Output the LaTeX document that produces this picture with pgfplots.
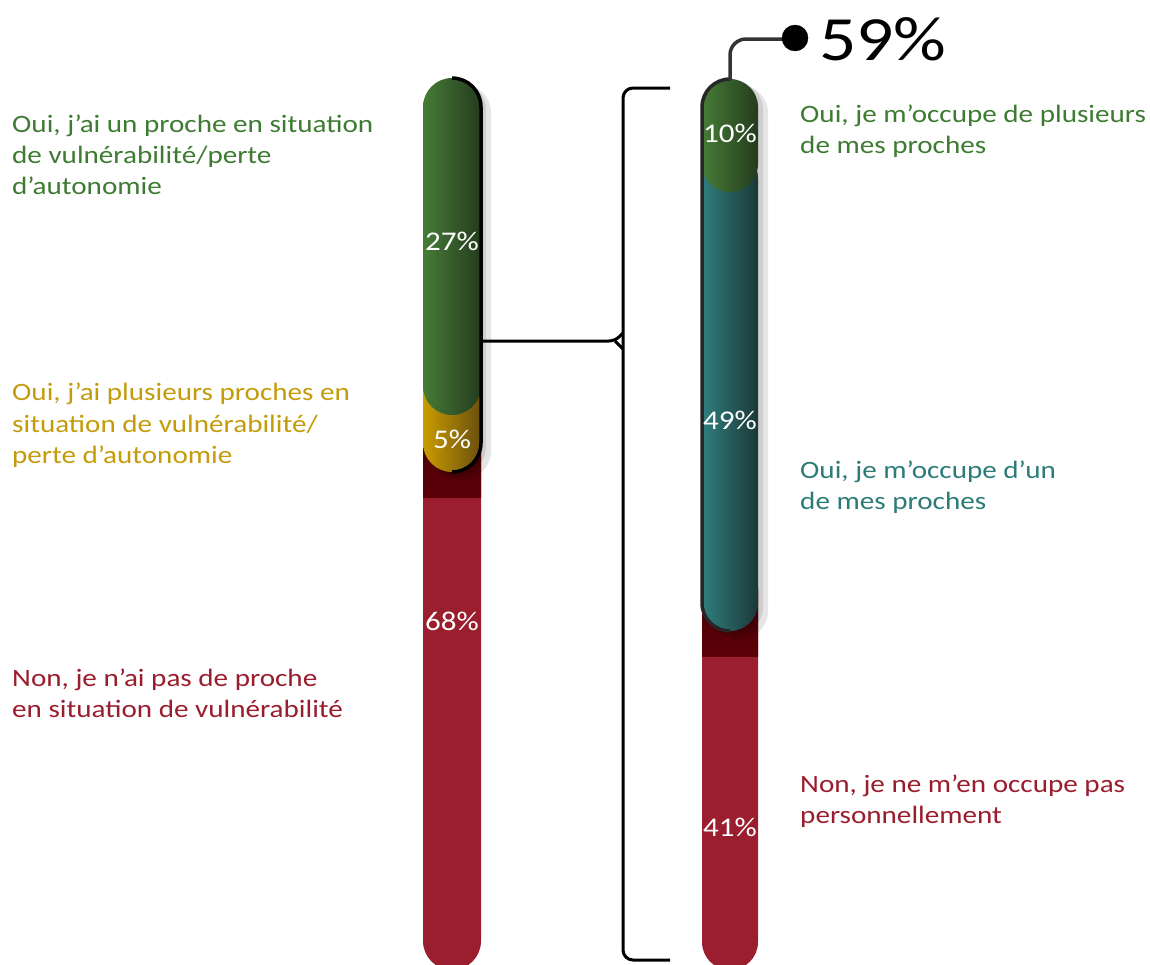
\documentclass[border=0pt]{standalone}
\usepackage{pgfplots}
\pgfplotsset{compat=1.18}
\usepackage{graphicx}
\usepackage{fontspec}
\setmainfont{Carlito}
\definecolor{gL}{HTML}{467C37}
\definecolor{gR}{HTML}{243B1D}
\definecolor{yL}{HTML}{C99C00}
\definecolor{yR}{HTML}{6A4F0F}
\definecolor{tL}{HTML}{2F7E7D}
\definecolor{tR}{HTML}{1A3838}
\definecolor{barred}{HTML}{9A1E2E}
\definecolor{dkred}{HTML}{5C0008}
\definecolor{txtgreen}{HTML}{3E7B32}
\definecolor{txtyellow}{HTML}{C49B0A}
\definecolor{txtred}{HTML}{9A1D2D}
\definecolor{txtteal}{HTML}{2D7B78}
\newcommand{\lab}[4]{\node[anchor=base west, inner sep=0pt, text=#1, font=\fontsize{25}{28}\selectfont] at (axis cs:#2,#3) {\scalebox{1.165}[1]{#4}};}
\newcommand{\val}[3]{\node[anchor=base, inner sep=0pt, text=white, font=\fontsize{27}{30}\selectfont] at (axis cs:#1,#2) {\scalebox{1.15}[1]{#3}};}
\begin{document}
\begin{tikzpicture}
\begin{axis}[width=1150pt,height=964pt,scale only axis,enlargelimits=false,
  xmin=0,xmax=1150,ymin=0,ymax=964,y dir=reverse,axis lines=none,clip=false]
% ---------- left bar ----------
\addplot[draw=none, fill=barred, rounded corners=29pt] coordinates {(423,700)(423,400)(481,400)(481,970)(423,970)(423,700)};
\addplot[draw=none, top color=dkred!80!black, bottom color=dkred] coordinates {(423,430)(481,430)(481,497)(423,497)(423,430)};
\addplot[draw=none, fill=black, fill opacity=0.10, rounded corners=29pt] coordinates {(431,250)(431,84)(491,84)(491,480)(431,480)(431,250)};
\addplot[draw=none, fill=black, fill opacity=0.10, rounded corners=29pt] coordinates {(427,250)(427,81)(486,81)(486,476)(427,476)(427,250)};
\addplot[draw=none, left color=yL, right color=yR, rounded corners=29pt] coordinates {(423,400)(423,330)(481,330)(481,472)(423,472)(423,400)};
\addplot[draw=none, left color=gL, right color=gR, rounded corners=29pt] coordinates {(423,250)(423,78)(481,78)(481,415)(423,415)(423,250)};
\addplot[black, line width=3.5pt, rounded corners=29pt] coordinates {(452,78)(481,78)(481,472)(452,472)};
% ---------- right bar ----------
\addplot[draw=none, fill=barred, rounded corners=28pt] coordinates {(702,700)(702,560)(758,560)(758,970)(702,970)(702,700)};
\addplot[draw=none, top color=dkred!80!black, bottom color=dkred] coordinates {(702,590)(758,590)(758,656)(702,656)(702,590)};
\addplot[draw=none, fill=black, fill opacity=0.10, rounded corners=28pt] coordinates {(710,300)(710,85)(768,85)(768,639)(710,639)(710,300)};
\addplot[draw=none, fill=black, fill opacity=0.10, rounded corners=28pt] coordinates {(706,300)(706,82)(763,82)(763,635)(706,635)(706,300)};
\addplot[draw=none, left color=tL, right color=tR, rounded corners=28pt] coordinates {(702,400)(702,150)(758,150)(758,631)(702,631)(702,400)};
\addplot[draw=none, left color=gL, right color=gR, rounded corners=28pt] coordinates {(702,130)(702,79)(758,79)(758,192)(702,192)(702,130)};
\addplot[color=black!85, line width=3.5pt, rounded corners=28pt] coordinates {(730,631)(702,631)(702,79)(730,79)};
% callout
\addplot[color=black!80, line width=3.5pt, rounded corners=16pt] coordinates {(730,80)(730,39)(795,39)};
\addplot[only marks, mark=*, mark size=13pt, black] coordinates {(795,38)};
% bracket
\addplot[black, line width=3pt, rounded corners=10pt] coordinates {(670,88)(623,88)(623,960)(670,960)};
\addplot[black, line width=3pt, rounded corners=6pt] coordinates {(481,341)(615,341)(623,333)};
\addplot[black, line width=3pt, rounded corners=6pt] coordinates {(615,341)(623,349)};
% ---------- value labels ----------
\val{452}{250}{27\%}
\val{452}{448}{5\%}
\val{452}{630}{68\%}
\val{730}{142}{10\%}
\val{730}{429}{49\%}
\val{730}{836}{41\%}
\node[anchor=base west, inner sep=0pt, text=black, font=\fontsize{63}{66}\selectfont] at (axis cs:819,60) {\scalebox{1.17}[1]{59\%}};
% ---------- category labels ----------
\lab{txtgreen}{12}{132}{Oui, j’ai un proche en situation}
\lab{txtgreen}{12}{163}{de vulnérabilité/perte}
\lab{txtgreen}{12}{194}{d’autonomie}
\lab{txtyellow}{12}{400}{Oui, j’ai plusieurs proches en}
\lab{txtyellow}{12}{432}{situation de vulnérabilité/}
\lab{txtyellow}{12}{463}{perte d’autonomie}
\lab{txtred}{12}{686}{Non, je n’ai pas de proche}
\lab{txtred}{12}{717}{en situation de vulnérabilité}
\lab{txtgreen}{800}{122}{Oui, je m’occupe de plusieurs}
\lab{txtgreen}{800}{153}{de mes proches}
\lab{txtteal}{800}{478}{Oui, je m’occupe d’un}
\lab{txtteal}{800}{509}{de mes proches}
\lab{txtred}{800}{792}{Non, je ne m’en occupe pas}
\lab{txtred}{800}{823}{personnellement}
\coordinate (BL) at (axis cs:0,964);
\coordinate (TR) at (axis cs:1150,0);
\end{axis}
\pgfresetboundingbox
\path[use as bounding box] (BL) rectangle (TR);
\end{tikzpicture}
\end{document}
